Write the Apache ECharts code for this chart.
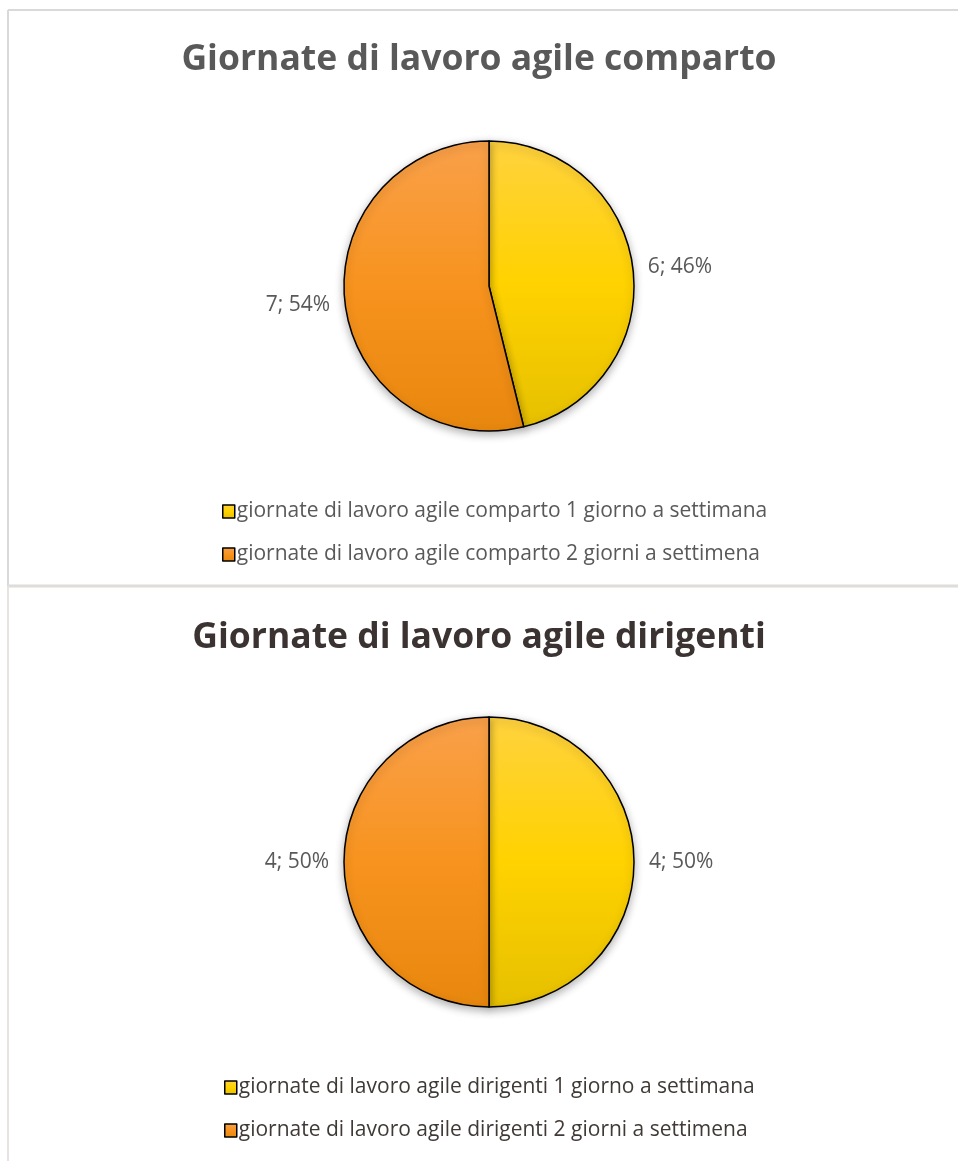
<!DOCTYPE html>
<html>
<head>
<meta charset="utf-8">
<title>Giornate di lavoro agile</title>
<script src="https://cdn.jsdelivr.net/npm/echarts@6/dist/echarts.min.js"></script>
<style>
  html, body { margin: 0; padding: 0; background: #fff; }
  #chart { width: 958px; height: 1161px; }
</style>
</head>
<body>
<div id="chart"></div>
<script>
// Titles of the two panels
const titles = ['Giornate di lavoro agile comparto', 'Giornate di lavoro agile dirigenti'];

// Categories (legend entries) per panel
const compartoCategories = [
  'giornate di lavoro agile comparto 1 giorno a settimana',
  'giornate di lavoro agile comparto 2 giorni a settimena'
];
const dirigentiCategories = [
  'giornate di lavoro agile dirigenti 1 giorno a settimana',
  'giornate di lavoro agile dirigenti 2 giorni a settimena'
];

// Number of employees per category
const compartoValues = [6, 7];
const dirigentiValues = [4, 4];

const FONT = '"Open Sans", "Noto Sans", sans-serif';

function grad(top, mid, bottom) {
  return new echarts.graphic.LinearGradient(0, 0, 0, 1, [
    { offset: 0, color: top },
    { offset: 0.5, color: mid },
    { offset: 1, color: bottom }
  ]);
}
const yellow = grad('#FFD23F', '#FFD200', '#E6C000');
const orange = grad('#F9A04A', '#F7931E', '#E8870E');

function buildData(cats, vals) {
  return cats.map((name, i) => ({
    name: name,
    value: vals[i],
    itemStyle: { color: i === 0 ? yellow : orange }
  }));
}

function pieSeries(cats, vals, cy) {
  return {
    type: 'pie',
    center: [489, cy],
    radius: 145,
    startAngle: 90,
    clockwise: true,
    silent: true,
    animation: false,
    avoidLabelOverlap: false,
    data: buildData(cats, vals),
    itemStyle: {
      borderColor: '#000',
      borderWidth: 1.5,
      shadowBlur: 8,
      shadowOffsetY: 3,
      shadowColor: 'rgba(0,0,0,0.3)'
    },
    label: {
      show: true,
      position: 'outside',
      formatter: p => p.value + '; ' + Math.round(p.percent) + '%',
      fontFamily: FONT,
      fontSize: 21,
      color: '#595959'
    },
    labelLine: { show: false, length: 10, length2: 0 }
  };
}

function legendBox(cats, left, top, color) {
  return {
    data: cats,
    orient: 'vertical',
    left: left,
    top: top,
    padding: 0,
    itemWidth: 12,
    itemHeight: 13,
    itemGap: 22,
    icon: 'rect',
    selectedMode: false,
    itemStyle: { borderColor: '#000', borderWidth: 1.5 },
    textStyle: { fontFamily: FONT, fontSize: 21, color: color, padding: [0, 0, 0, -3] }
  };
}

const chart = echarts.init(document.getElementById('chart'), null, { renderer: 'canvas' });
chart.setOption({
  backgroundColor: '#fff',
  animation: false,
  title: [
    {
      text: titles[0], left: 'center', top: 37,
      textStyle: { fontFamily: FONT, fontSize: 35.5, fontWeight: 'bold', color: '#595959' }
    },
    {
      text: titles[1], left: 'center', top: 615,
      textStyle: { fontFamily: FONT, fontSize: 35.5, fontWeight: 'bold', color: '#3B3331' }
    }
  ],
  legend: [
    legendBox(compartoCategories, 222, 501, '#595959'),
    legendBox(dirigentiCategories, 224, 1077, '#403A37')
  ],
  graphic: [
    // panel frames
    { type: 'line', shape: { x1: 8, y1: 10, x2: 958, y2: 10 }, style: { stroke: '#D9D9D9', lineWidth: 2 } },
    { type: 'line', shape: { x1: 8, y1: 10, x2: 8, y2: 586 }, style: { stroke: '#D9D9D9', lineWidth: 2 } },
    { type: 'line', shape: { x1: 8, y1: 586, x2: 958, y2: 586 }, style: { stroke: '#E0DCD9', lineWidth: 3 } },
    { type: 'line', shape: { x1: 8, y1: 586, x2: 8, y2: 1161 }, style: { stroke: '#E8E3E0', lineWidth: 2 } }
  ],
  series: [
    pieSeries(compartoCategories, compartoValues, 286),
    pieSeries(dirigentiCategories, dirigentiValues, 862)
  ]
});
</script>
</body>
</html>
